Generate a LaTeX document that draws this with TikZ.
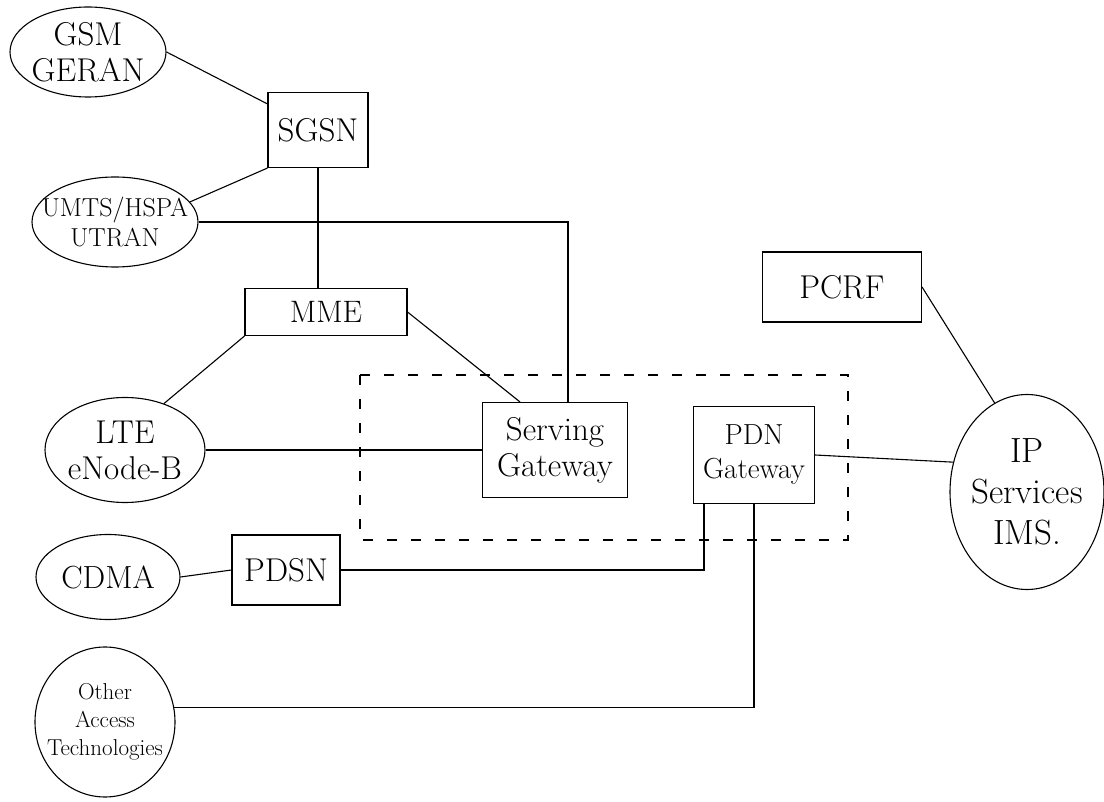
\documentclass[tikz,border=0pt]{standalone}
\usepackage{fontspec}
\usetikzlibrary{shapes.geometric}
\begin{document}
\begin{tikzpicture}[x=1pt,y=-1pt,
  every node/.style={inner sep=0pt, align=center, font=\fontsize{33}{36}\selectfont},
  oval/.style={draw, ellipse, line width=1.1pt},
  box/.style={draw, rectangle, line width=1.1pt},
  link/.style={draw, line width=1.1pt},
  zone/.style={draw, line width=1.1pt, dash pattern=on 10pt off 14pt}]
\path[fill=white] (0,0) rectangle (1104,802);
\useasboundingbox (0,0) rectangle (1104,802);
% nodes
\node[oval, minimum width=156pt, minimum height=90pt,
  label={center:{GSM\\GERAN}}] (gsm) at (88,52) {};
\node[box, minimum width=100pt, minimum height=75pt] (sgsn) at (318,130) {SGSN};
\node[oval, minimum width=166pt, minimum height=90pt,
  label={[font=\fontsize{26}{30}\selectfont]center:{UMTS/HSPA\\UTRAN}}] (umts) at (115,222) {};
\node[box, minimum width=162pt, minimum height=47pt, font=\fontsize{31}{34}\selectfont] (mme) at (326,312) {MME};
\node[oval, minimum width=160pt, minimum height=105pt,
  label={center:{LTE\\eNode-B}}] (lte) at (125,450) {};
\node[box, minimum width=145pt, minimum height=95pt] (sgw) at (555,450) {Serving\\Gateway};
\node[box, minimum width=121pt, minimum height=97pt, font=\fontsize{29}{34}\selectfont] (pdn) at (754,455) {PDN\\Gateway};
\node[box, minimum width=159pt, minimum height=70pt] (pcrf) at (842,287) {PCRF};
\node[oval, minimum width=154pt, minimum height=195pt,
  label={[font=\fontsize{35}{41}\selectfont]center:{IP\\Services\\IMS.}}] (ip) at (1027,492) {};
\node[oval, minimum width=144pt, minimum height=85pt,
  label={[font=\fontsize{32}{36}\selectfont]center:{CDMA}}] (cdma) at (108,577) {};
\node[box, minimum width=108pt, minimum height=70pt] (pdsn) at (286,570) {PDSN};
\node[oval, minimum width=140pt, minimum height=150pt,
  label={[font=\fontsize{23}{28}\selectfont]center:{Other\\Access\\Technologies}}] (other) at (105,722) {};
% dashed core region
\draw[zone] (360,375) rectangle (848,540);
% connectors
\draw[link] (gsm.east) -- ([yshift=-12pt]sgsn.north west);
\draw[link] (umts.15) -- (sgsn.south west);
\draw[link] (umts.east) -| ([xshift=13pt]sgw.north);
\draw[link] (sgsn.south) -- (sgsn.south |- mme.north);
\draw[link] (mme.south west) -- (lte.50);
\draw[link] (mme.east) -- ([xshift=-35pt]sgw.north);
\draw[link] (lte.east) -- (sgw.west);
\draw[link] (cdma.east) -- (pdsn.west);
\draw[link] (pdsn.east) -| ([xshift=-50pt]pdn.south);
\draw[link] (other.12) -| (pdn.south);
\draw[link] (pdn.east) -- (ip.158);
\draw[link] (pcrf.east) -- (ip.110);
\end{tikzpicture}
\end{document}
